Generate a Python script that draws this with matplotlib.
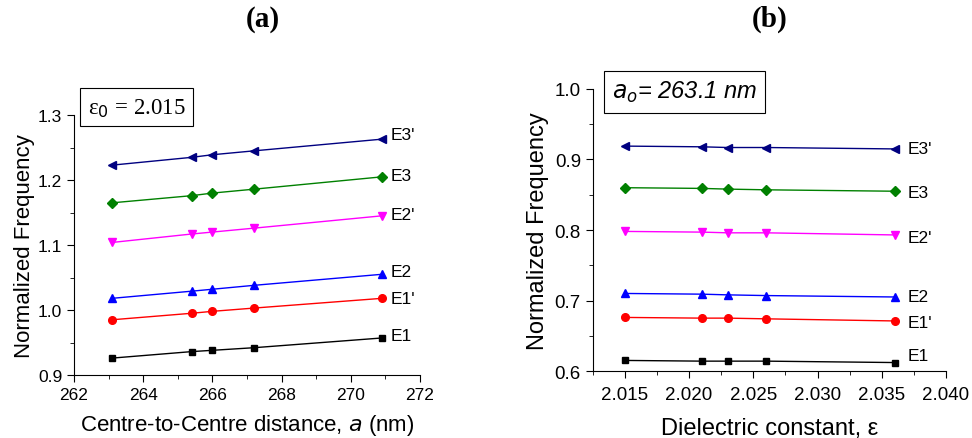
import matplotlib
matplotlib.use("Agg")
import matplotlib.pyplot as plt
from matplotlib.ticker import MultipleLocator

# panel (a): frequency vs centre-to-centre distance
dist_nm = [263.1, 265.4, 266.0, 267.2, 270.9]
a_E1 = [0.926, 0.936, 0.938, 0.942, 0.957]
a_E1p = [0.985, 0.995, 0.998, 1.003, 1.018]
a_E2 = [1.018, 1.029, 1.032, 1.038, 1.055]
a_E2p = [1.104, 1.117, 1.120, 1.126, 1.145]
a_E3 = [1.165, 1.176, 1.180, 1.186, 1.205]
a_E3p = [1.223, 1.235, 1.239, 1.245, 1.263]

# panel (b): frequency vs dielectric constant
eps = [2.015, 2.021, 2.023, 2.026, 2.036]
b_E1 = [0.615, 0.614, 0.614, 0.614, 0.612]
b_E1p = [0.676, 0.675, 0.675, 0.674, 0.671]
b_E2 = [0.710, 0.709, 0.708, 0.707, 0.705]
b_E2p = [0.798, 0.797, 0.796, 0.796, 0.793]
b_E3 = [0.860, 0.859, 0.858, 0.857, 0.855]
b_E3p = [0.919, 0.918, 0.917, 0.917, 0.915]

names = ["E1", "E1'", "E2", "E2'", "E3", "E3'"]
colors = ["black", "red", "blue", "magenta", "green", "navy"]
markers = ["s", "o", "^", "v", "D", "<"]
msizes = [4.5, 5.5, 6, 6, 5, 6]

plt.rcParams["font.family"] = ["Liberation Sans", "DejaVu Sans"]

fig = plt.figure(figsize=(9.72, 4.39), dpi=100)
ax1 = fig.add_axes([0.0761, 0.1435, 0.356, 0.592])
ax2 = fig.add_axes([0.6098, 0.1526, 0.3635, 0.6424])


def draw(ax, x, series, dys, dx, tsize):
    for y, name, c, m, ms, dy in zip(series, names, colors, markers, msizes, dys):
        ax.plot(x, y, color=c, marker=m, markersize=ms, linewidth=1, clip_on=False)
        ax.annotate(name, (x[-1], y[-1]), xytext=(dx, dy), textcoords="offset points",
                    va="center", ha="left", fontsize=12.5)
    for s in ["top", "right"]:
        ax.spines[s].set_visible(False)
    ax.tick_params(which="both", direction="out", labelsize=tsize)
    ax.tick_params(which="major", length=5)
    ax.tick_params(which="minor", length=3)


draw(ax1, dist_nm, [a_E1, a_E1p, a_E2, a_E2p, a_E3, a_E3p], [2, 0, 2, 1, 1, 3], 6, 12.5)
ax1.set_xlim(262, 272)
ax1.set_ylim(0.9, 1.3)
ax1.xaxis.set_major_locator(MultipleLocator(2))
ax1.xaxis.set_minor_locator(MultipleLocator(1))
ax1.yaxis.set_major_locator(MultipleLocator(0.1))
ax1.yaxis.set_minor_locator(MultipleLocator(0.05))
ax1.set_xlabel("Centre-to-Centre distance, $\\it{a}$ (nm)", fontsize=16, labelpad=7)
ax1.set_ylabel("Normalized Frequency", fontsize=16, labelpad=2)
ax1.text(0.04, 1.075, "ε$_0$ = 2.015", transform=ax1.transAxes, fontsize=16.5,
         family="Liberation Serif", va="top", ha="left",
         bbox=dict(boxstyle="square,pad=0.32", fc="white", ec="black", lw=0.8))

draw(ax2, eps, [b_E1, b_E1p, b_E2, b_E2p, b_E3, b_E3p], [5, -1, 0, -2, -1, 0], 9, 13.5)
ax2.set_xlim(2.0125, 2.040)
ax2.set_ylim(0.6, 1.0)
ax2.xaxis.set_major_locator(MultipleLocator(0.005))
ax2.xaxis.set_minor_locator(MultipleLocator(0.0025))
ax2.yaxis.set_major_locator(MultipleLocator(0.1))
ax2.yaxis.set_minor_locator(MultipleLocator(0.05))
ax2.xaxis.set_major_formatter(plt.FormatStrFormatter("%.3f"))
ax2.yaxis.set_major_formatter(plt.FormatStrFormatter("%.1f"))
ax2.xaxis.set_tick_params(pad=6)
ax2.set_xlabel("Dielectric constant, ε", fontsize=17, labelpad=10)
ax2.set_ylabel("Normalized Frequency", fontsize=17)
ax2.text(0.055, 1.035, "$\\it{a_o}$= 263.1 nm", transform=ax2.transAxes, fontsize=17,
         style="italic", va="top", ha="left",
         bbox=dict(boxstyle="square,pad=0.35", fc="white", ec="black", lw=0.8))

fig.text(0.27, 0.955, "(a)", fontsize=21, fontweight="bold", family="Liberation Serif",
         ha="center", va="center")
fig.text(0.792, 0.955, "(b)", fontsize=21, fontweight="bold", family="Liberation Serif",
         ha="center", va="center")

fig.savefig("out.png", dpi=100)
